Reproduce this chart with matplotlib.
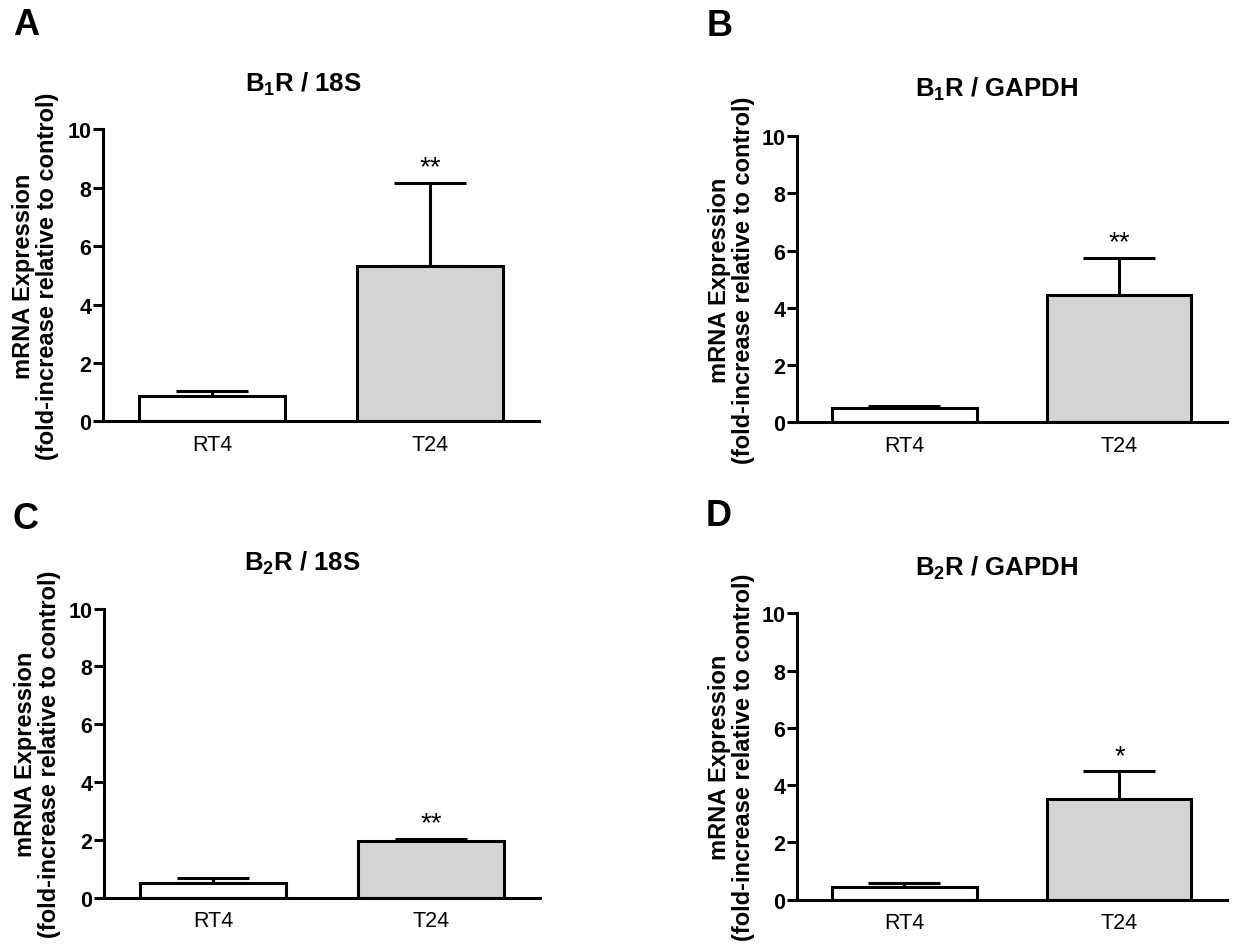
import numpy as np
import matplotlib
matplotlib.use('Agg')
import matplotlib.pyplot as plt

# Fonts: Arial-like look
plt.rcParams['font.family'] = ['Liberation Sans', 'DejaVu Sans']
plt.rcParams['mathtext.fontset'] = 'custom'
plt.rcParams['mathtext.rm'] = 'Liberation Sans'
plt.rcParams['mathtext.bf'] = 'Liberation Sans:bold'
plt.rcParams['mathtext.it'] = 'Liberation Sans:italic'

# Data
cellLines = ['RT4', 'T24']
panelLetters = ['A', 'B', 'C', 'D']
panelTitles = [r'B$_\mathbf{1}$R / 18S', r'B$_\mathbf{1}$R / GAPDH',
               r'B$_\mathbf{2}$R / 18S', r'B$_\mathbf{2}$R / GAPDH']
meansB1R18S = [0.88, 5.33]
semB1R18S = [0.17, 2.84]
meansB1RGAPDH = [0.49, 4.44]
semB1RGAPDH = [0.07, 1.29]
meansB2R18S = [0.52, 1.95]
semB2R18S = [0.15, 0.08]
meansB2RGAPDH = [0.43, 3.52]
semB2RGAPDH = [0.14, 0.96]
significance = [['', '**'], ['', '**'], ['', '**'], ['', '*']]
yTicks = [0, 2, 4, 6, 8, 10]

allMeans = [meansB1R18S, meansB1RGAPDH, meansB2R18S, meansB2RGAPDH]
allSem = [semB1R18S, semB1RGAPDH, semB2R18S, semB2RGAPDH]

barColors = ['white', '#d4d4d4']
lw = 2.2

fig = plt.figure(figsize=(12.33, 9.45), dpi=100)

# Axes positions [left, bottom, width, height] in figure fraction
axPositions = [[0.0835, 0.553, 0.354, 0.309],
               [0.6464, 0.552, 0.3487, 0.303],
               [0.0843, 0.049, 0.354, 0.306],
               [0.6464, 0.047, 0.3487, 0.303]]
labelX = [-0.155, -0.152, -0.152, -0.152]
letterPos = [(0.021, 0.973), (0.584, 0.972), (0.021, 0.450), (0.583, 0.453)]
titlePos = [(0.246, 0.911), (0.808, 0.905), (0.245, 0.404), (0.808, 0.399)]

for i in range(4):
    ax = fig.add_axes(axPositions[i])
    x = np.arange(len(cellLines))
    means = allMeans[i]
    sem = allSem[i]

    # Error bars (upper only), drawn below the bars
    ax.errorbar(x, means, yerr=[np.zeros(len(sem)), sem], fmt='none',
                ecolor='black', elinewidth=lw, capsize=26, capthick=lw, zorder=1)
    ax.bar(x, means, width=0.67, color=barColors, edgecolor='black',
           linewidth=lw, zorder=2)

    # Significance stars above the error bars
    for j in range(len(cellLines)):
        if significance[i][j]:
            ax.text(x[j], means[j] + sem[j] + 0.3, significance[i][j],
                    ha='center', va='baseline', fontsize=20)

    ax.set_xlim(-0.5, 1.5)
    ax.set_ylim(0, 10)
    ax.set_yticks(yTicks)
    ax.set_xticks(x)
    ax.set_xticklabels(cellLines, fontsize=15.5)
    ax.set_yticklabels([str(t) for t in yTicks], fontsize=15.5, fontweight='bold')
    ax.tick_params(axis='y', length=7, width=lw, pad=1.5)
    ax.tick_params(axis='x', length=0, pad=9)

    ax.spines['top'].set_visible(False)
    ax.spines['right'].set_visible(False)
    ax.spines['left'].set_linewidth(lw)
    ax.spines['bottom'].set_linewidth(lw)

    ax.set_ylabel('mRNA Expression\n(fold-increase relative to control)',
                  fontsize=17, fontweight='bold', va='center', linespacing=1.05)
    ax.yaxis.set_label_coords(labelX[i], 0.5)

    fig.text(titlePos[i][0], titlePos[i][1], panelTitles[i], fontsize=18.5,
             ha='center', va='center', fontweight='bold')
    fig.text(letterPos[i][0], letterPos[i][1], panelLetters[i], fontsize=26,
             fontweight='bold', ha='center', va='center')

fig.savefig('out.png', dpi=100)
